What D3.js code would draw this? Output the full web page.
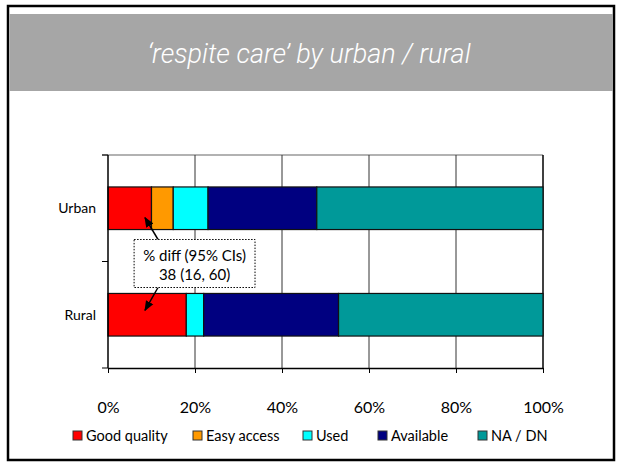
<!DOCTYPE html>
<html>
<head>
<meta charset="utf-8">
<script src="https://cdn.jsdelivr.net/npm/d3@7"></script>
<style>
  body { margin: 0; background: #fff; }
  svg { display: block; }
</style>
</head>
<body>
<div id="chart"></div>
<script>
var groups = ["Urban", "Rural"];
var seriesNames = ["Good quality", "Easy access", "Used", "Available", "NA / DN"];
var seriesColors = ["#FF0000", "#FF9900", "#00FFFF", "#000080", "#009999"];
// percent of respondents in each answer, per group
var goodQuality = [10, 18];
var easyAccess = [5, 0];
var used = [8, 4];
var available = [25, 31];
var naDn = [52, 47];
var xTicks = [0, 20, 40, 60, 80, 100];

var fullWidth = 617, fullHeight = 462;
var margin = {top: 155, right: 74, bottom: 94, left: 108};
var width = fullWidth - margin.left - margin.right;
var height = fullHeight - margin.top - margin.bottom;

var svg = d3.select('#chart').append('svg')
  .attr('width', fullWidth)
  .attr('height', fullHeight);

// slide frame and title band
svg.append('rect')
  .attr('x', 8).attr('y', 6)
  .attr('width', 606).attr('height', 454)
  .attr('fill', '#fff')
  .attr('stroke', '#000')
  .attr('stroke-width', 2.5);

svg.append('rect')
  .attr('x', 9.5).attr('y', 14)
  .attr('width', 603.5).attr('height', 77)
  .attr('fill', '#A6A6A6');

svg.append('text')
  .attr('x', 309).attr('y', 63)
  .attr('text-anchor', 'middle')
  .style('font-family', 'Roboto, "Liberation Sans", Arial, sans-serif')
  .style('font-style', 'italic')
  .style('font-weight', 300)
  .style('font-size', '27px')
  .attr('fill', '#fff')
  .text('\u2018respite care\u2019 by urban / rural');

var g = svg.append('g')
  .attr('transform', 'translate(' + margin.left + ',' + margin.top + ')');

var xScale = d3.scaleLinear().domain([0, 100]).range([0, width]);
var yScale = d3.scaleBand().domain(groups).range([0, height]).paddingInner(0.6).paddingOuter(0.3);

// build stacked rows
var rows = groups.map(function(grp, i) {
  return {
    group: grp,
    "Good quality": goodQuality[i],
    "Easy access": easyAccess[i],
    "Used": used[i],
    "Available": available[i],
    "NA / DN": naDn[i]
  };
});
var stack = d3.stack().keys(seriesNames)(rows);
var color = d3.scaleOrdinal().domain(seriesNames).range(seriesColors);

// top border of the plot area
g.append('line')
  .attr('x1', -6).attr('x2', width)
  .attr('y1', 0).attr('y2', 0)
  .attr('stroke', '#999').attr('stroke-width', 1.5);

// vertical gridlines
g.selectAll('line.grid')
    .data(xTicks.slice(1))
  .enter().append('line')
    .classed('grid', true)
    .attr('x1', function(d) { return xScale(d); })
    .attr('x2', function(d) { return xScale(d); })
    .attr('y1', 0).attr('y2', height)
    .attr('stroke', function(d) { return d === 100 ? '#000' : '#333'; })
    .attr('stroke-width', function(d) { return d === 100 ? 1.5 : 1; });

// bars
g.selectAll('g.series')
    .data(stack)
  .enter().append('g')
    .classed('series', true)
    .attr('fill', function(d) { return color(d.key); })
  .selectAll('rect')
    .data(function(d) { return d.filter(function(s) { return s[1] > s[0]; }); })
  .enter().append('rect')
    .attr('x', function(d) { return xScale(d[0]); })
    .attr('width', function(d) { return xScale(d[1]) - xScale(d[0]); })
    .attr('y', function(d) { return yScale(d.data.group); })
    .attr('height', yScale.bandwidth())
    .attr('stroke', '#111')
    .attr('stroke-width', 1.2);

// y axis: ticks at the band boundaries, labels at the centres
var yBounds = [0, height / 2, height];
g.selectAll('line.ytick')
    .data(yBounds)
  .enter().append('line')
    .classed('ytick', true)
    .attr('x1', -6).attr('x2', 0)
    .attr('y1', function(d) { return d; })
    .attr('y2', function(d) { return d; })
    .attr('stroke', '#000');

g.append('line')
  .attr('x1', 0).attr('x2', 0)
  .attr('y1', 0).attr('y2', height)
  .attr('stroke', '#000').attr('stroke-width', 1.5);

g.selectAll('text.ylabel')
    .data(groups)
  .enter().append('text')
    .classed('ylabel', true)
    .attr('x', -12)
    .attr('y', function(d) { return yScale(d) + yScale.bandwidth() / 2; })
    .attr('dy', '0.35em')
    .attr('text-anchor', 'end')
    .style('font-family', 'Lato, "Open Sans", sans-serif')
    .style('font-size', '14px')
    .attr('fill', '#000')
    .text(function(d) { return d; });

// x axis
var xAxis = d3.axisBottom(xScale)
  .tickValues(xTicks)
  .tickSize(5)
  .tickSizeOuter(0)
  .tickPadding(29)
  .tickFormat(function(d) { return d + '%'; });

var xAxisG = g.append('g')
  .attr('transform', 'translate(0,' + height + ')')
  .call(xAxis);
xAxisG.select('.domain').attr('stroke', '#000').attr('stroke-width', 1.5);
xAxisG.selectAll('.tick line').attr('stroke', '#000');
xAxisG.selectAll('.tick text')
  .style('font-family', 'Lato, "Open Sans", sans-serif')
  .style('font-size', '16px')
  .attr('fill', '#000');

// callout box with arrows
var defs = svg.append('defs');
defs.append('marker')
  .attr('id', 'arrow')
  .attr('viewBox', '0 0 10 10')
  .attr('refX', 9).attr('refY', 5)
  .attr('markerWidth', 7).attr('markerHeight', 7)
  .attr('orient', 'auto-start-reverse')
  .append('path')
    .attr('d', 'M0,1 L10,5 L0,9 Z')
    .attr('fill', '#000');

var boxX0 = xScale(6), boxX1 = xScale(33.8);
var boxY0 = height / 2 - 22, boxY1 = height / 2 + 26;
var arrowFromX = xScale(11.5), arrowToX = xScale(8.5);
var urbanBottom = yScale('Urban') + yScale.bandwidth();
var ruralTop = yScale('Rural');

g.append('line')
  .attr('x1', arrowFromX).attr('y1', boxY0)
  .attr('x2', arrowToX).attr('y2', urbanBottom - 12)
  .attr('stroke', '#000').attr('stroke-width', 1.5)
  .attr('marker-end', 'url(#arrow)');

g.append('line')
  .attr('x1', arrowFromX).attr('y1', boxY1)
  .attr('x2', arrowToX).attr('y2', ruralTop + 17)
  .attr('stroke', '#000').attr('stroke-width', 1.5)
  .attr('marker-end', 'url(#arrow)');

g.append('rect')
  .attr('x', boxX0).attr('y', boxY0)
  .attr('width', boxX1 - boxX0).attr('height', boxY1 - boxY0)
  .attr('fill', '#fff')
  .attr('stroke', '#000')
  .attr('stroke-width', 1)
  .attr('stroke-dasharray', '1.5,1.5');

g.append('text')
  .attr('x', (boxX0 + boxX1) / 2).attr('y', boxY0 + 21)
  .attr('text-anchor', 'middle')
  .style('font-family', 'Lato, "Open Sans", sans-serif')
  .style('font-size', '15px')
  .text('% diff (95% CIs)');

g.append('text')
  .attr('x', (boxX0 + boxX1) / 2).attr('y', boxY0 + 40)
  .attr('text-anchor', 'middle')
  .style('font-family', 'Lato, "Open Sans", sans-serif')
  .style('font-size', '15px')
  .text('38 (16, 60)');

// legend
var legendX = [73, 193, 303, 378, 478];
var legend = svg.append('g').attr('transform', 'translate(0,436)');
var items = legend.selectAll('g.item')
    .data(seriesNames)
  .enter().append('g')
    .classed('item', true)
    .attr('transform', function(d, i) { return 'translate(' + legendX[i] + ',0)'; });
items.append('rect')
  .attr('x', 0).attr('y', -5)
  .attr('width', 9).attr('height', 9)
  .attr('fill', function(d) { return color(d); })
  .attr('stroke', '#333')
  .attr('stroke-width', 1);
items.append('text')
  .attr('x', 13).attr('y', 0)
  .attr('dy', '0.35em')
  .style('font-family', 'Lato, "Open Sans", sans-serif')
  .style('font-size', '14.5px')
  .attr('fill', '#000')
  .text(function(d) { return d; });
</script>
</body>
</html>
